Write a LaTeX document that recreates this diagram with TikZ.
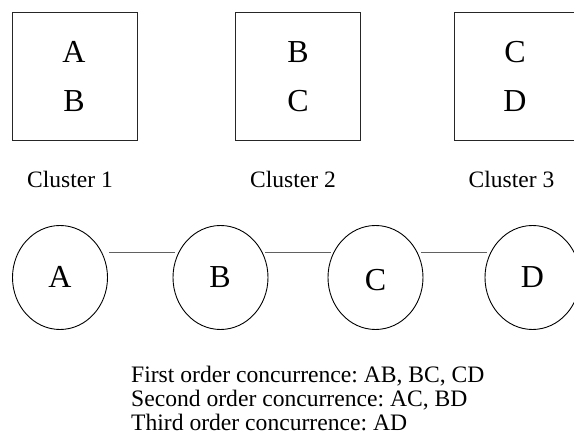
\documentclass[tikz,border=0pt]{standalone}
\usepackage{fontspec}
\setmainfont{Liberation Serif}
\frenchspacing
\usetikzlibrary{shapes.geometric}
\begin{document}
\begin{tikzpicture}[x=1pt,y=-1pt,
  cluster/.style={draw=black!85,line width=1.2pt,minimum width=125pt,minimum height=128pt,inner sep=0pt,anchor=north west},
  boxletter/.style={anchor=base,inner sep=0pt,font=\fontsize{32}{34}\selectfont},
  clabel/.style={anchor=base,inner sep=0pt,font=\fontsize{23.5}{26}\selectfont},
  item/.style={draw=black,line width=0.9pt,ellipse,minimum width=95pt,minimum height=104pt,inner sep=0pt},
  itemletter/.style={anchor=base,inner sep=0pt,font=\fontsize{32}{34}\selectfont},
  link/.style={draw=black!62,line width=1.4pt},
  note/.style={anchor=base west,inner sep=0pt,font=\fontsize{23.6}{24}\selectfont}]
\useasboundingbox (0,0) rectangle (574,443);
% cluster boxes
\node[cluster] (k1) at (12,12) {};
\node[cluster] (k2) at (235,12) {};
\node[cluster] (k3) at (454,12) {};
\node[boxletter] (k1a) at (74,63) {A};
\node[boxletter] (k1b) at (74,112) {B};
\node[boxletter] (k2a) at (298,63) {B};
\node[boxletter] (k2b) at (298,112) {C};
\node[boxletter] (k3a) at (515,63) {C};
\node[boxletter] (k3b) at (515,112) {D};
\node[clabel] (l1) at (70,188) {Cluster 1};
\node[clabel] (l2) at (293,188) {Cluster 2};
\node[clabel] (l3) at (511.5,188) {Cluster 3};
% items
\node[item] (A) at (60,277.5) {};
\node[item] (B) at (220.5,277.5) {};
\node[item] (C) at (375.5,277.5) {};
\node[item] (D) at (532.5,277.5) {};
\node[itemletter] (tA) at (60,288) {A};
\node[itemletter] (tB) at (220,288) {B};
\node[itemletter] (tC) at (375.5,291) {C};
\node[itemletter] (tD) at (532.5,288) {D};
\draw[link] ([xshift=1.5pt,yshift=24.8pt]A.east) -- ([xshift=2.5pt,yshift=24.8pt]B.west);
\draw[link] ([xshift=-3pt,yshift=24.8pt]B.east) -- ([xshift=3.5pt,yshift=24.8pt]C.west);
\draw[link] ([xshift=-2pt,yshift=24.8pt]C.east) -- ([xshift=2pt,yshift=24.8pt]D.west);
% notes
\node[note] (n1) at (131,383) {First order concurrence: AB, BC, CD};
\node[note] (n2) at (131,407) {Second order concurrence: AC, BD};
\node[note] (n3) at (131,431) {Third order concurrence: AD};
\end{tikzpicture}
\end{document}
